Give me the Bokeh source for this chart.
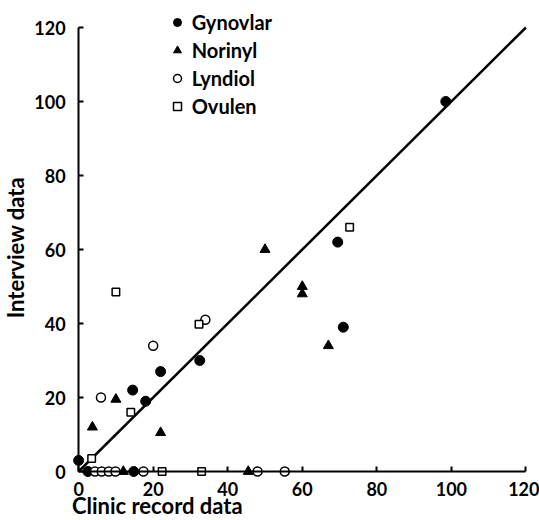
import math
from bokeh.plotting import figure
from bokeh.models import FixedTicker, Legend, LegendItem, Label, Range1d
from bokeh.embed import file_html
from bokeh.resources import INLINE

# ---- data ----
gyn_x = [98.5, 69.5, 71.0, 32.5, 22.0, 14.5, 18.0, 0.0, 2.5, 14.8]
gyn_y = [100.0, 62.0, 39.0, 30.0, 27.0, 22.0, 19.0, 3.0, 0.0, 0.0]

nor_x = [50.0, 60.0, 60.0, 67.0, 10.0, 3.7, 22.0, 12.0, 45.5]
nor_y = [60.0, 50.0, 48.0, 34.0, 19.5, 12.0, 10.5, 0.0, 0.0]

lyn_x = [34.0, 20.0, 6.0, 4.4, 6.2, 8.1, 9.9, 17.4, 48.0, 55.3]
lyn_y = [41.0, 34.0, 20.0, 0.0, 0.0, 0.0, 0.0, 0.0, 0.0, 0.0]

ovu_x = [10.0, 32.3, 14.0, 72.7, 3.5, 22.4, 33.0]
ovu_y = [48.5, 39.8, 16.0, 66.0, 3.5, 0.0, 0.0]

line_x = [0, 120]
line_y = [0, 120]

tick_values = [0, 20, 40, 60, 80, 100, 120]

FONT = "Lato"

p = figure(width=539, height=520, output_backend="svg", toolbar_location=None,
           x_range=Range1d(-20.95, 123.63), y_range=Range1d(-13.24, 127.3),
           min_border_left=0, min_border_right=0, min_border_top=0, min_border_bottom=0)
p.outline_line_color = None
p.grid.visible = False
p.background_fill_color = "white"
p.border_fill_color = "white"

p.line(line_x, line_y, line_width=2.5, color="black")

r_g = p.scatter(gyn_x, gyn_y, marker="circle", size=10, fill_color="black", line_color="black")
r_n = p.scatter(nor_x, nor_y, marker="triangle", size=10, fill_color="black", line_color="black")
r_l = p.scatter(lyn_x, lyn_y, marker="circle", size=9, fill_color="white", line_color="black", line_width=1.5)
r_o = p.scatter(ovu_x, ovu_y, marker="square", size=7.5, fill_color="white", line_color="black", line_width=1.5)

for ax in (p.xaxis[0], p.yaxis[0]):
    ax.ticker = FixedTicker(ticks=tick_values)
    ax.fixed_location = 0
    ax.bounds = (0, 120)
    ax.axis_line_width = 2
    ax.axis_line_color = "black"
    ax.major_tick_line_width = 2
    ax.major_tick_line_color = "black"
    ax.major_tick_in = 5
    ax.major_tick_out = 0
    ax.minor_tick_line_color = None
    ax.major_label_text_font = FONT
    ax.major_label_text_font_style = "bold"
    ax.major_label_text_font_size = "18px"
    ax.major_label_text_color = "black"
p.xaxis[0].major_label_standoff = 10
p.yaxis[0].major_label_standoff = 13

p.add_layout(Label(x=-16.9, y=60.5, text="Interview data", angle=math.pi / 2,
                   text_align="center", text_baseline="alphabetic",
                   text_font=FONT, text_font_style="bold", text_font_size="22px",
                   text_color="black"))
p.add_layout(Label(x=-1.8, y=-9.2, text="Clinic record data",
                   text_align="left", text_baseline="alphabetic",
                   text_font=FONT, text_font_style="bold", text_font_size="22px",
                   text_color="black"))

legend = Legend(items=[LegendItem(label="Gynovlar", renderers=[r_g]),
                       LegendItem(label="Norinyl", renderers=[r_n]),
                       LegendItem(label="Lyndiol", renderers=[r_l]),
                       LegendItem(label="Ovulen", renderers=[r_o])],
                location=(166.7, 400.3), glyph_width=20, glyph_height=28,
                label_standoff=5, spacing=0, padding=0, margin=0,
                border_line_color=None, background_fill_alpha=0,
                label_text_font=FONT, label_text_font_style="bold",
                label_text_font_size="20px", label_text_color="black")
p.add_layout(legend)

open("out.html", "w").write(file_html(p, INLINE))
